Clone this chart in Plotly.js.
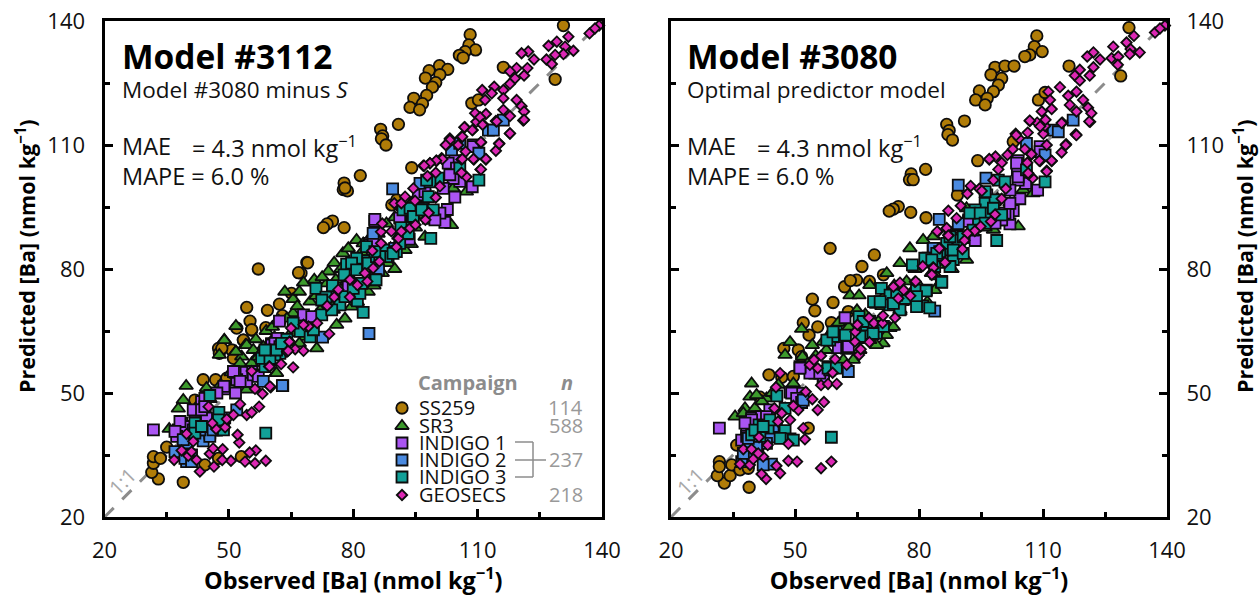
<!DOCTYPE html>
<html><head><meta charset="utf-8">
<script src="https://cdn.plot.ly/plotly-3.0.1.min.js"></script>
<style>html,body{margin:0;padding:0;background:#fff}#c{width:1259px;height:596px}</style>
</head><body><div id="c"></div>
<script>
// ---------- Values: [observed, predicted] ----------
const ss259A=[[130.7,138.9],[128.7,125.9],[116.2,128.8],[108.2,136.7],[107.9,134.2],[109.5,133],[107,132.6],[105.6,131.7],[106.5,131.1],[100.8,129.2],[102.8,128.3],[98.3,128],[100.9,127],[97.4,126.2],[99.9,125.1],[99.1,124],[97.7,122],[94.6,121.3],[96.7,120],[93.7,119.1],[96,118.5],[90.9,115],[86.6,113.8],[87.1,112.2],[86.8,111.5],[87.9,110],[81.7,102.6],[77.8,100.8],[77.6,99.2],[78.6,98.9],[78,99.6],[75,91.6],[73.7,90.9],[72.8,90],[77.8,90],[68.8,81.6],[94.1,104.5],[108.6,120.1],[110.2,120.9],[89.3,95.5],[90.5,96.7],[67.4,79],[39,28.4],[33,29.2],[31.4,30.8],[31.8,33],[31.8,34.6],[33.5,34.2],[35,36.9],[43.8,53.2],[46.8,53.2],[47.5,60.8],[47.7,59.6],[53.5,62.8],[55.5,65.2],[53,34.6],[47.5,34.2],[44.2,32.6],[41.8,48.3],[49.5,53.2],[57.1,80],[69,81.5],[66.8,79.1],[65.1,74.1],[62.2,71.5],[54.3,70.7],[59.3,70],[62.9,68.7],[55.1,67.4],[51.9,65.7],[55.5,65.3],[58.9,65.8],[53.5,62.8],[50.7,60.4],[48.3,60.8],[51.1,58.4],[49.5,53.6]];
const sr3A=[[35.6,41.3],[39.7,51.7],[39,48.3],[37.8,46.2],[48.9,62.8],[51.7,60],[54,61.6],[53.1,58.8],[47.7,59.2],[52.7,57.2],[55.5,57.2],[44.6,51.2],[57.1,59.2],[61.4,54.8],[54.3,50.8],[51.7,66.2],[48.9,62.8],[54.3,61.6],[51.7,60],[63.5,74.5],[65.5,72.7],[68,76.7],[70.6,77.4],[69.6,72.1],[74,79.4],[75.4,81.5],[77.5,83.8],[78.8,85],[80.8,87],[73.6,76.5],[75.8,77.4],[71.2,60.8],[68.4,63.6],[58.3,61.2],[55.9,60.4],[65.5,69.3],[75.2,70.1],[79.6,70.9],[83.6,74.5],[61.5,54.8],[57.1,58.8],[103.7,90.6],[97.3,87.8],[92.5,84.6],[88.4,81.4],[107.3,98.7],[104.1,99.5],[82.4,86.2],[101.7,91.9],[42.5,47],[45.5,48.5],[48,52],[50.5,55],[59,65],[60.5,66],[62,67.5],[64,68],[66.5,71],[67,74.5],[71,73.5],[72.5,78],[77,80],[79,81],[82,84],[84,87.5],[86,88.5],[88,91],[90,92.5],[92,95],[94,96],[96,97],[76,66.5],[78,68],[81,72],[85,76],[87,79],[90,80],[94,86],[99,93],[60,57.5],[63,60],[67,62],[70,65],[56.5,63],[58,60],[61,63.5],[65,64.5],[68,67.5],[72,70],[74,72],[77,75],[80,77],[83,80],[86,83],[89,85],[91,88],[95,90],[97,93]];
const indigo1A=[[31.8,41.1],[38.6,42.7],[37.8,41.1],[38.2,39.9],[39.4,41.9],[37.4,39.5],[41.8,45.5],[43.4,47.9],[44.2,45.9],[44.6,43.9],[48.9,51],[51.6,50],[54.3,52.8],[52.9,55],[55.5,55.2],[60.3,61.9],[61.8,63.2],[51.9,53.2],[62.2,67.4],[68,68.9],[70,68.5],[61.7,63.2],[60.3,61.9],[62.5,61.1],[54.3,52.8],[53.1,55],[48.8,51.6],[51.9,53.2],[84,86.2],[85.2,91.5],[85.2,92],[84,85.8],[93.5,87.2],[102.1,91.3],[102.7,94.4],[104.5,97.4],[108.7,99.9],[105.7,101.2],[104.1,101.9],[104.5,106.2],[103.7,104.4],[96.5,98.5],[101.7,99.5],[99.3,92.3],[92,92.3],[108.9,110],[51.5,55],[55.9,54.4],[57.1,54],[60.3,61.6],[78.8,75.7],[61.5,60.8],[84.8,86.6],[91.2,92.3],[100.9,93.5],[98.1,92.3],[99.7,91.9],[95.7,97.9],[97.3,98.7],[102.9,105.6],[104.9,104.4],[108.9,109.6],[103.3,102.8],[38.2,43.1],[37,40.7],[41.4,45.9],[43.4,45.9],[44.2,48.7],[44.2,46.7],[47.1,50],[51.1,55.2],[52.7,52.8],[61.1,62],[62.3,61.2]];
const indigo2A=[[63,51.8],[58.3,52.8],[51.9,45.9],[37,35.8],[43.8,38.4],[45.4,40.3],[39.8,33.4],[39.8,37.9],[83.8,64.4],[62.9,51.8],[72.6,63.5],[84.8,88.6],[86.1,79.8],[89.5,99.4],[96.1,100.7],[112.6,113.6],[113.8,113.6],[110.3,108],[103.7,108.8],[105.7,110.4],[116.2,116],[47,41],[41,35],[49,44],[75,75],[90,85],[39,38.7],[45.4,39.5],[41.4,41.1],[39.4,34.2],[41,33.4],[43,41.1],[46.2,41.1]];
const indigo3A=[[58.9,40.3],[45.4,49.4],[47.6,45.3],[41.8,42.7],[41.8,40.3],[48.7,41.1],[59.1,58.6],[58.7,56.4],[59.9,60],[82.4,69.5],[71,75.3],[78.4,81.2],[82.8,82],[77.8,78.6],[80.8,82.6],[81,72.3],[76.8,71.3],[73.4,73.2],[72.4,68.9],[67.2,64.9],[59.4,58.6],[62.3,59.6],[85.2,77.4],[81.6,74.1],[65.5,66.9],[69.6,63.6],[98.7,87.4],[110.3,101.5],[88.4,83],[85.5,77.4],[96.9,94.7],[98.1,97.5],[94.1,91.9],[95.7,94.3],[92.9,94.7],[105.7,104.4],[100.5,102],[98.5,101.1],[90.4,84.2],[91.5,90],[93,88.5],[75,76],[64,63],[57.9,58.4],[61.1,59.2],[70.4,65.3],[74.8,70.1],[72.4,72.5],[78,73.3],[80,75.3],[79.6,81.4],[80.8,79.8],[82,76.5],[83.6,81.4],[85.6,83],[87.3,84.6],[88,83],[86.4,83],[89.6,83.8],[92,94.3],[93.7,94.7],[94.5,92.7],[96.5,94.3],[99.3,94.3],[97.7,101.5],[91.2,86.2],[93.3,88.6],[83.2,85.4],[85.2,84.2],[43.4,41.9],[47.5,43.5],[59.9,58.4],[58.7,60.4],[61.5,60.4],[62.7,62]];
const geosecsA=[[58.9,33.6],[56.3,33],[53.9,33.4],[50.5,33.6],[48.4,33.8],[46.4,32.2],[43,31],[42.2,33.8],[40.2,34.8],[38.6,36.1],[36.8,33.8],[48.5,36.4],[45.4,35.3],[46.2,36.6],[56.5,36.1],[55,35.6],[52.5,38],[52.1,39.9],[41.4,38.3],[39.8,40.1],[49.1,41.7],[46.9,41.3],[46,42.7],[49.5,43.7],[51.1,44.7],[54.3,44.7],[55.5,45.3],[57.3,46.7],[52.7,47.3],[45.1,46.7],[58.1,49.8],[60.1,51.4],[56.3,51],[59.7,56.4],[62.6,57],[65.5,56.2],[55.5,55.3],[64.7,62.4],[66,60.6],[64,60],[41,35.8],[59.8,56.4],[64.3,60.2],[68,60.2],[64.6,62.4],[65,65.7],[69.2,66.1],[71.3,66.9],[74.2,64.3],[68,66.5],[73.7,71.1],[75.4,73.2],[76.4,75],[79.2,73.2],[79.2,77.4],[81,76.1],[83.4,77],[82.8,79],[84.8,80.2],[86.3,81.8],[84.6,84.4],[86.7,86.2],[86.7,89],[87,91],[59.9,51.6],[90.4,85.3],[90.9,87.4],[89.2,89.1],[91.6,89.1],[93.7,89.9],[95,90.7],[97.4,91.9],[98.2,93.6],[99.9,97.3],[94.9,96.5],[92.5,97.5],[89.9,95.9],[94.5,99.5],[91.6,95.9],[100.9,100],[97.9,102.5],[99.9,103.3],[96.9,105],[98.5,105.6],[100.1,106.2],[101.3,106.8],[107.3,102.3],[106.1,103.3],[110.7,104.1],[112,106.5],[109.1,106.5],[106.1,106.5],[107.1,108.4],[114.4,108.6],[115.2,110.4],[117.8,112.8],[102.5,110],[105.3,110],[103.3,111.6],[106.1,112],[110.8,110.6],[108.8,113.6],[106.9,114.3],[111.2,115.1],[109.7,115.6],[114.4,115.8],[121,115.9],[139.3,138.9],[137,137],[138.3,138.2],[133.1,132.8],[131.9,136.2],[131.1,133.8],[130.7,132],[129.1,135],[127.1,134],[126.6,130.7],[127.9,129.6],[128.7,131.8],[123.6,130.7],[122.2,132.6],[120.6,132.2],[122,128.6],[121.2,126.8],[119.4,128.6],[117.8,127.8],[119,126.1],[117.8,124.8],[114,124.1],[111.1,123.3],[113.4,122.5],[116.2,123.3],[111.8,120.9],[116.2,121.3],[119.4,120.9],[120.6,119.4],[121.2,118.1],[121.2,116.1],[117.8,117],[114.6,115.7],[112,117.5],[109.4,117.7],[110.6,116.7],[116.2,118.5],[111.2,114.9],[108.7,113.6],[106.8,114.3],[117.8,112.8],[115.2,110.3],[112,106.6],[110.8,104.1],[110.8,110.7],[106.3,112],[103.3,111.2],[102.3,110],[106.3,106.6],[109,106.6],[101.5,106.6],[100,106.2],[98.5,105.6],[97.1,105]];
const ss259B=[[130.8,138.4],[128.8,126.7],[116.3,129.1],[108.5,136.4],[107.9,133.8],[109.8,132.6],[106.8,131.8],[105.6,131.4],[98.4,128.8],[100.8,129.1],[103,129.1],[97.4,127],[100,126.1],[99.2,124.5],[98,122.9],[94.6,123.1],[96.5,121.3],[93.7,120.9],[96,119.7],[91,115.8],[86.7,115],[87.3,113.5],[87,112.5],[88.1,111.2],[94.2,106.2],[81.6,104.1],[78.1,103],[77.7,101.6],[78.6,101.6],[75,95.1],[73.8,94.5],[72.8,94],[78,93.7],[81.7,92.4],[71.4,78.6],[89.3,97.9],[108.9,120.9],[110.5,122.7],[102.8,110.8],[38.9,27.2],[32.9,28.2],[31.2,30],[34.3,30],[31.7,33.4],[31.7,32.2],[34.7,32.6],[36.7,31.4],[38.7,31.8],[35.9,37.4],[53.2,41.5],[43.7,54.4],[46.8,53.8],[49.6,54],[41.5,49],[47.3,60.8],[50.8,60.4],[53.4,64],[52,67],[55.5,66],[58.8,67],[54.8,69.9],[54.2,72.7],[59.2,71.9],[62,75.7],[64.9,77.3],[62.9,69.7],[51.6,58.8],[58.5,85],[69.2,83.4],[66.2,80.6],[63.4,77.2],[68,77]];
const sr3B=[[35.5,44.3],[39.5,52.3],[39.1,49.1],[37.9,46.3],[48.8,62.3],[51.6,65.5],[47.6,59.2],[54.2,61.6],[51.8,58.8],[63.3,73.6],[65.5,73.6],[56.8,62.4],[69.7,71.3],[68.1,76.1],[49.6,52.3],[43.1,48.7],[40.3,46.3],[75.4,70.1],[71.3,62],[64.1,58],[66.5,62.8],[70.5,67.7],[57.6,60.4],[61.7,58],[78.6,74.5],[83.8,74.9],[104,90.3],[98,89.5],[93.1,87],[77.8,85],[81,87],[75.4,81.4],[72.2,79],[91.5,94.7],[105.2,99.2],[107.6,98.3],[86.7,86.2],[83.5,87.9],[91.5,82.2],[84.3,78.2],[75.4,69.7],[73,65.7],[78.6,74.9],[42,48],[44.5,50],[46,52],[53,57],[55,59],[59,65],[60.5,67],[67,69],[72,74],[74,76],[79,80],[85,84],[87,86],[89,90],[95,94],[97,96],[82,72],[88,80],[90,84],[96,90],[100,93],[62,62],[68,64],[58,63],[63,66],[65,70],[69,67],[71,71],[76,72],[77,77],[80,76],[83,79],[86,81],[93,91],[99,97],[102,96],[40.7,49.5],[37.5,45.1],[69.7,61.6],[68.1,62.8],[72.1,64],[73.8,66],[65.7,60.4]];
const indigo1B=[[31.7,41.5],[62.1,68.2],[48.8,50.2],[60.5,61],[40.7,44.3],[39.5,43.9],[41.9,44.3],[38.3,41],[37.1,38.6],[43.9,45.9],[51.6,49.9],[52.4,56],[55.2,55.2],[56.8,53.6],[73.3,71.7],[68.1,67.3],[62.5,60.8],[54.8,54.8],[49.2,50],[56.9,53.6],[102,90.9],[102.8,94.1],[104.4,97],[108.7,99.1],[105.8,100.7],[104,101.5],[104,106.2],[103.8,104],[93.6,86.9],[101.6,93.2],[99.6,91.9],[96.4,97.9],[102,99.1],[92,91.9],[109.3,109.6],[53.6,54.8],[51.2,56.4],[58,56.4],[62.9,61.2],[100.8,93.5],[100,91.9],[98.4,91.1],[102,95.9],[104,102.3],[103.6,105.6],[109.3,108.4],[92,91.5],[39.5,43.5],[37.9,42.7],[43.1,44.3],[38.3,39.5],[45.1,39.5],[50.4,48.7],[51.2,56],[56,54.8]];
const indigo2B=[[83.8,69.8],[62.9,55.2],[51.6,47.7],[44.3,32.8],[42.3,32.6],[37.1,33.4],[39.1,37.8],[45.5,41.9],[43.9,39.4],[58.4,55.6],[83.4,85],[52,48.3],[89.5,100.3],[96.2,102],[84.9,92],[89.5,91],[112.5,113.6],[113.7,113.2],[110.5,107.6],[106,110.4],[117.3,116],[83.5,85],[39,35.5],[41,36],[37.5,35.4],[43.1,37.8],[44.7,41.9],[40.7,37],[38.7,39]];
const indigo3B=[[58.8,39.3],[47.6,40.9],[48.8,38.9],[46.4,39],[45.6,49.3],[47.6,46.3],[41.3,42.3],[43.5,41.5],[39.5,39.9],[41.5,39.5],[59.1,63.6],[60,64.8],[62.2,64],[65.5,68.5],[58.4,62.8],[67.1,64.4],[70.9,75.3],[73.3,73.5],[80.9,71.1],[82.6,70.6],[79.4,74.9],[81.8,74.9],[85.4,76.9],[58.9,56],[78.4,81],[85.5,77],[88.3,82.3],[81.7,74.7],[73,73.7],[76.6,72.9],[59.3,63.7],[66.9,64.4],[82.2,82.6],[85.9,84.6],[89.1,87.4],[98.8,86.9],[110.5,101.1],[85.5,76.8],[96,95.9],[98.4,96.7],[96.8,93.5],[93.6,94.3],[99.2,101.5],[100.8,101.1],[106,104],[94.4,91.5],[85.1,83],[89.5,87],[96,98.7],[57.7,62.8],[81.4,82.6],[83.8,80.6],[85,84.2],[79.4,73.3],[74.6,73.7],[73,71.3],[69,72.1],[70.6,72.1],[67.3,66.5],[65.7,63.7],[69.7,64.5],[71.4,66.1],[87.5,80.6],[86.7,86.2],[75.4,70.1],[92.3,93.5],[94.8,93.5],[98,94.7],[100,93.1],[96,91.1],[87.5,87.8],[90.7,87.8],[93.1,89.4],[84.3,83.8],[88.3,84.6],[90.7,83.8],[83.1,82.2],[43.9,43.5],[40.3,41],[49.6,38.6],[42.3,41.9],[58,56],[60,56],[59.2,64.8],[66.5,67.3],[68.9,64.4],[73.8,71.7],[79.4,70.9]];
const geosecsB=[[43,29.2],[46.4,30.6],[41.9,30.4],[45.5,32.4],[36.7,32.8],[39.1,32.6],[39.9,34],[42.3,34.6],[37.5,36.4],[39.5,36.4],[41.1,35.4],[48.4,33.6],[50.5,33.4],[56.3,31.8],[58.8,33.4],[43.4,37.4],[41.3,39.3],[48.4,37.7],[52.4,38.8],[52,41.5],[48.8,43.5],[45.9,43.1],[46.8,45.1],[45,46.3],[50.8,45.9],[49.6,46.9],[55.5,45.9],[57,47.8],[54.2,48.5],[52.6,50.3],[45.4,51.4],[46.4,54.8],[56.3,51.9],[58,52.2],[60.1,52.2],[59.1,54.9],[62.5,56.8],[59.7,58.2],[56.3,59],[55.5,56],[53.6,56.8],[54.6,58],[65.5,59.2],[65.9,60.6],[68,62.3],[64.5,62.4],[64.6,64.8],[65.1,66.5],[67.9,68.2],[69.1,66.9],[71.2,66.9],[71.3,68.7],[74.2,68.2],[75,72.9],[77.9,73.5],[76.3,74.9],[73.8,75.7],[79,76.9],[75.4,76.7],[79.2,77],[80.9,80.7],[83.4,80.4],[83,78.7],[86.3,81.5],[85.1,85],[87.1,88.2],[84.5,89],[110.9,103.8],[114.5,108.2],[115.6,110.2],[117.9,112.6],[121.4,115.6],[112.1,106.1],[109.3,106.1],[106.2,105.7],[107.2,107.7],[105.6,109],[102.7,109],[101.4,107.6],[100,105.7],[98.5,107.2],[97,106.5],[99.2,104.1],[98,101.5],[107.5,102],[106.5,102.9],[101,99.4],[100,97],[94.6,99.4],[92.5,100.1],[91.7,98.2],[95.2,98.9],[90.1,95.3],[87.1,94.1],[89.1,92.3],[98.4,93.2],[97.4,91.5],[94.9,90.3],[93.5,89.2],[91.7,88.6],[91,86.9],[90.5,84.8],[86.7,89.9],[84.4,89.1],[87.1,88.1],[84.9,85],[86.3,81.6],[83.5,80.3],[83.1,78.6],[103.4,112.7],[104.2,111.6],[106.3,113],[110.9,110],[110.1,112.7],[110.5,114.6],[108.6,115.4],[114.7,115.4],[106.8,115.8],[139.5,138.9],[137.1,137.2],[138.3,138.2],[133.4,132.4],[132,136.4],[131.2,133.2],[130.2,134.8],[127,133.8],[126.6,131],[128.2,131.4],[128.1,129.4],[131,132],[123.8,130.7],[122.2,132.4],[120.7,131.4],[122.2,128.8],[121.3,126.8],[118.9,128.2],[117.7,126.8],[118.9,125.6],[114.1,124],[111.3,122.9],[118.1,122.9],[116.1,121.9],[111.7,120.9],[116.5,119.7],[119.7,120.9],[120.9,119],[121.7,117.7],[121.2,115.7],[118.1,118.1],[112.1,118.7],[109.7,118.1],[110.6,116.1],[114.5,115.3],[118.1,112.4],[115.5,110],[112.1,106.2],[110.9,103.6],[109.3,114.5],[106.8,115.9],[103.5,112.4],[97,106.6],[107.2,107.8],[109.1,106.2],[106.4,103.2]];

const campaigns=['SS259','SR3','INDIGO 1','INDIGO 2','INDIGO 3','GEOSECS'];
const counts=['114','588','','','','218'];
const groupCount='237';
const onetoone=[20,140];
const tickVals=[20,50,80,110,140];
const panelTitles=['Model #3112','Model #3080'];
const panelSubs=['Model #3080 minus <i>S</i>','Optimal predictor model'];
const maeLabel='MAE', maeText='= 4.3 nmol kg<sup>−1</sup>';
const mapeText='MAPE = 6.0 %';

// ---------- Styles ----------
const W=1259,H=596;
const FONT='"Open Sans","Noto Sans",sans-serif';
const px=v=>v/W, py=v=>1-v/H;
const colors=['#b07c08','#3c9a2c','#aa55f2','#4a8ae0','#12a098','#dc28b4'];
const symbols=['circle','triangle-up','square','square','square','diamond'];
const sizes=[11.5,12,11,11,11,8];
const L=[104.5,602],R=[671,1167],TB=[21,517];
const sets=[[ss259A,sr3A,indigo1A,indigo2A,indigo3A,geosecsA],[ss259B,sr3B,indigo1B,indigo2B,indigo3B,geosecsB]];

const traces=[];
['x','x2'].forEach((xa,p)=>{
  const ya=p?'y2':'y';
  traces.push({type:'scatter',mode:'lines',x:onetoone,y:onetoone,xaxis:xa,yaxis:ya,showlegend:false,hoverinfo:'skip',
    line:{color:'#8c8c8c',width:3,dash:'13px,12px'}});
  sets[p].forEach((d,i)=>traces.push({type:'scatter',mode:'markers',name:campaigns[i],x:d.map(r=>r[0]),y:d.map(r=>r[1]),xaxis:xa,yaxis:ya,
    showlegend:false,cliponaxis:false,
    marker:{symbol:symbols[i],size:sizes[i],color:colors[i],line:{color:'#0d0d0d',width:1.8}}}));
});
// legend keys, placed with the left panel's own axis scale
const legRows=[407,425,442,459,476,494], legX=402;
const toX=v=>20+(v-L[0])/(L[1]-L[0])*120, toY=v=>20+(TB[1]-v)/(TB[1]-TB[0])*120;
campaigns.forEach((c,i)=>traces.push({type:'scatter',mode:'markers',x:[toX(legX)],y:[toY(legRows[i]+1)],xaxis:'x',yaxis:'y',showlegend:false,hoverinfo:'skip',
  marker:{symbol:symbols[i],size:sizes[i],color:colors[i],line:{color:'#0d0d0d',width:1.8}}}));

const ann=[];
const T=(text,x,y,size,opt={})=>ann.push(Object.assign({text,x:px(x),y:py(y),xref:'paper',yref:'paper',showarrow:false,xanchor:'left',yanchor:'middle',
  font:{family:FONT,size,color:opt.color||'#111',weight:opt.weight||400},borderpad:0,borderwidth:0},opt.extra||{}));
[122,687].forEach((x0,p)=>{
  T('<b>'+panelTitles[p]+'</b>',x0,56,33.5,{color:'#000'});
  T(panelSubs[p],x0,89,22.5);
  T(maeLabel,x0,146,23.5);
  T(maeText,x0+70,146,23.5);
  T(mapeText,x0,176,23.5);
});
T('1:1',122,481,20,{color:'#a8a8a8',extra:{textangle:-45,xanchor:'center'}});
T('1:1',690,481,20,{color:'#a8a8a8',extra:{textangle:-45,xanchor:'center'}});
T('<b>Predicted [Ba] (nmol kg<sup>−1</sup>)</b>',25,256,21.5,{color:'#000',extra:{textangle:-90,xanchor:'center'}});
T('<b>Predicted [Ba] (nmol kg<sup>−1</sup>)</b>',1243,256,21.5,{color:'#000',extra:{textangle:-90,xanchor:'center'}});
T('<b>Campaign</b>',418,382,20,{color:'#8c8c8c'});
T('<b><i>n</i></b>',567,382,20,{color:'#8c8c8c',extra:{xanchor:'center'}});
campaigns.forEach((c,i)=>{
  T(c,419,legRows[i],20);
  if(counts[i]) T(counts[i],583,legRows[i],20,{color:'#999',extra:{xanchor:'right'}});
});
T(groupCount,583,459,20,{color:'#999',extra:{xanchor:'right'}});

const seg=(a,b,c,d)=>({type:'line',xref:'paper',yref:'paper',x0:px(a),y0:py(b),x1:px(c),y1:py(d),line:{color:'#8c8c8c',width:1.5}});
const shapes=[seg(515,442,533,442),seg(533,442,533,477),seg(533,477,515,477),seg(515,460,546,460)];

const axisBase={range:[20,140],tickmode:'array',tickvals:tickVals,ticktext:tickVals.map(String),showgrid:false,zeroline:false,
  ticks:'inside',ticklen:8,tickwidth:3,tickcolor:'#000',showline:true,linecolor:'#000',linewidth:3,
  ticklabelstandoff:12,tickfont:{family:FONT,size:22,color:'#111'},
  minor:{tickmode:'array',tickvals:[35,65,95,125],ticks:'inside',ticklen:5,tickwidth:3,tickcolor:'#000',showgrid:false}};
const xTitle=t=>({text:'<b>'+t+'</b>',standoff:13,font:{family:FONT,size:23.5,color:'#000'}});
const XT='Observed [Ba] (nmol kg<sup>−1</sup>)';
const layout={width:W,height:H,margin:{l:0,r:0,t:0,b:0},paper_bgcolor:'#fff',plot_bgcolor:'#fff',showlegend:false,
  xaxis:Object.assign({},axisBase,{domain:[px(L[0]),px(L[1])],anchor:'y',mirror:true,title:xTitle(XT)}),
  yaxis:Object.assign({},axisBase,{domain:[py(TB[1]),py(TB[0])],anchor:'x',side:'left',mirror:true}),
  xaxis2:Object.assign({},axisBase,{domain:[px(R[0]),px(R[1])],anchor:'y2',mirror:true,title:xTitle(XT)}),
  yaxis2:Object.assign({},axisBase,{domain:[py(TB[1]),py(TB[0])],anchor:'x2',side:'right',mirror:'ticks'}),
  annotations:ann,shapes};
Plotly.newPlot('c',traces,layout,{displayModeBar:false,responsive:false});
</script></body></html>
